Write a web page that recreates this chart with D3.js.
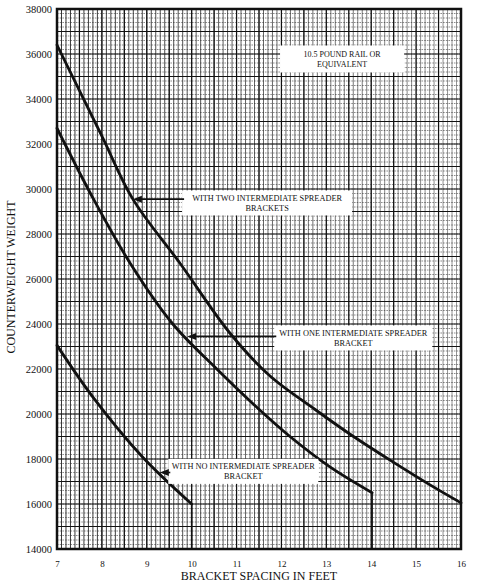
<!DOCTYPE html>
<html>
<head>
<meta charset="utf-8">
<script src="https://cdn.jsdelivr.net/npm/d3@7"></script>
<style>
  body { margin: 0; background: #fff; }
  text { font-family: "Liberation Serif", "DejaVu Serif", serif; fill: #111; }
</style>
</head>
<body>
<script>
// curve data (x = bracket spacing in feet, y = counterweight)
var twoX = [7, 8, 8.69, 9.74, 10.85, 11.74, 12.75, 13.53, 14.42, 15.31, 16];
var twoY = [36400, 32350, 29550, 26700, 23600, 21700, 20200, 19100, 17950, 16850, 16050];

var oneX = [7, 7.8, 8.63, 9.58, 10.56, 11.45, 12.19, 13.08, 14.02];
var oneY = [32700, 29600, 26700, 24000, 22000, 20300, 19000, 17650, 16500];

var noX = [7, 7.8, 8.9, 10];
var noY = [23050, 20750, 18100, 16000];

var xTicks = [7, 8, 9, 10, 11, 12, 13, 14, 15, 16];
var yTicks = [14000, 16000, 18000, 20000, 22000, 24000, 26000, 28000, 30000, 32000, 34000, 36000, 38000];

// callout labels: where the arrow touches the curve, and the box center
var calloutText = [
  ["WITH TWO INTERMEDIATE SPREADER", "BRACKETS"],
  ["WITH ONE INTERMEDIATE SPREADER", "BRACKET"],
  ["WITH NO INTERMEDIATE SPREADER", "BRACKET"]
];
var calloutPoint = [[8.69, 29550], [9.9, 23450], [9.29, 17400]];
var calloutBox = [[11.68, 29380], [13.6, 23380], [11.15, 17450]];
var calloutWidth = [170, 158, 150];

var width = 477, height = 587;
var margin = {top: 9, right: 16, bottom: 38, left: 57};

var svg = d3.select("body")
            .append("svg")
            .attr("width", width)
            .attr("height", height);

var x = d3.scaleLinear().domain([7, 16]).range([margin.left, width - margin.right]);
var y = d3.scaleLinear().domain([14000, 38000]).range([height - margin.bottom, margin.top]);

var grid = svg.append("g");

// fine grid, 0.1 ft and 200 lb, fading out to the right like the scan
grid.selectAll(".vmin")
    .data(d3.range(70, 161).map(function(d) { return d / 10; }))
    .enter()
    .append("line")
    .attr("x1", function(d) { return x(d); })
    .attr("x2", function(d) { return x(d); })
    .attr("y1", y(14000))
    .attr("y2", y(38000))
    .style("stroke", "#111")
    .style("stroke-width", 0.9)
    .style("stroke-opacity", function(d) { return 0.95 - (d - 7) * 0.05; });

grid.selectAll(".hmin")
    .data(d3.range(14000, 38001, 200))
    .enter()
    .append("line")
    .attr("x1", x(7))
    .attr("x2", x(16))
    .attr("y1", function(d) { return y(d); })
    .attr("y2", function(d) { return y(d); })
    .style("stroke", "#222")
    .style("stroke-width", 0.8)
    .style("stroke-dasharray", "1.6,1.1")
    .style("stroke-opacity", 0.65);

// heavier lines every half foot and every 1000 lb
grid.selectAll(".vmaj")
    .data(d3.range(7, 16.01, 0.5))
    .enter()
    .append("line")
    .attr("x1", function(d) { return x(d); })
    .attr("x2", function(d) { return x(d); })
    .attr("y1", y(14000))
    .attr("y2", y(38000))
    .style("stroke", "#111")
    .style("stroke-width", 1.2);

grid.selectAll(".hmaj")
    .data(d3.range(14000, 38001, 1000))
    .enter()
    .append("line")
    .attr("x1", x(7))
    .attr("x2", x(16))
    .attr("y1", function(d) { return y(d); })
    .attr("y2", function(d) { return y(d); })
    .style("stroke", "#111")
    .style("stroke-width", 1.2);

// frame
svg.append("rect")
   .attr("x", x(7))
   .attr("y", y(38000))
   .attr("width", x(16) - x(7))
   .attr("height", y(14000) - y(38000))
   .style("fill", "none")
   .style("stroke", "#111")
   .style("stroke-width", 2.5);

// axes (text only, the frame does the lines)
var xAxis = svg.append("g")
               .attr("transform", "translate(0," + (y(14000) + 9) + ")")
               .call(d3.axisBottom(x).tickValues(xTicks).tickSize(0).tickFormat(d3.format("d")));
xAxis.select(".domain").remove();
xAxis.selectAll("text").style("font-size", "9px").style("font-family", "Liberation Serif");

var yAxis = svg.append("g")
               .attr("transform", "translate(" + (x(7) - 2) + ",0)")
               .call(d3.axisLeft(y).tickValues(yTicks).tickSize(0).tickFormat(d3.format("d")));
yAxis.select(".domain").remove();
yAxis.selectAll("text").style("font-size", "10.5px").style("font-family", "Liberation Serif");

svg.append("text")
   .attr("x", (x(7) + x(16)) / 2)
   .attr("y", 580)
   .attr("text-anchor", "middle")
   .style("font-size", "12px")
   .text("BRACKET SPACING IN FEET");

svg.append("text")
   .attr("transform", "translate(15," + (y(26000) - 2) + ") rotate(-90)")
   .attr("text-anchor", "middle")
   .style("font-size", "12px")
   .text("COUNTERWEIGHT WEIGHT");

// rail note
var note = svg.append("g");
note.append("rect")
    .attr("x", x(13.35) - 62)
    .attr("y", y(35800) - 13)
    .attr("width", 124)
    .attr("height", 27)
    .style("fill", "#fff");
note.selectAll("text")
    .data(["10.5 POUND RAIL OR", "EQUIVALENT"])
    .enter()
    .append("text")
    .attr("x", x(13.35))
    .attr("y", function(d, i) { return y(35800) - 2 + i * 10; })
    .attr("text-anchor", "middle")
    .style("font-size", "8px")
    .text(function(d) { return d; });

// the curves
var line = d3.line()
             .x(function(d) { return x(d[0]); })
             .y(function(d) { return y(d[1]); })
             .curve(d3.curveCatmullRom.alpha(0.5));

var curves = [d3.zip(twoX, twoY), d3.zip(oneX, oneY), d3.zip(noX, noY)];

svg.selectAll(".curve")
   .data(curves)
   .enter()
   .append("path")
   .attr("d", line)
   .style("fill", "none")
   .style("stroke", "#111")
   .style("stroke-width", 2.8)
   .style("stroke-linecap", "round");

// cut-off drops at the end of the two shorter curves
svg.selectAll(".drop")
   .data([curves[1][curves[1].length - 1], curves[2][curves[2].length - 1]])
   .enter()
   .append("line")
   .attr("x1", function(d) { return x(d[0]); })
   .attr("x2", function(d) { return x(d[0]); })
   .attr("y1", function(d) { return y(d[1]); })
   .attr("y2", y(14000))
   .style("stroke", "#111")
   .style("stroke-width", 1.6);

// callouts with arrows
calloutText.forEach(function(lines, i) {
  var g = svg.append("g");
  var cx = x(calloutBox[i][0]), cy = y(calloutBox[i][1]);
  var px = x(calloutPoint[i][0]), py = y(calloutPoint[i][1]);
  var w = calloutWidth[i], h = 25;

  g.append("rect")
   .attr("x", cx - w / 2)
   .attr("y", cy - h / 2)
   .attr("width", w)
   .attr("height", h)
   .style("fill", "#fff");

  g.selectAll("text")
   .data(lines)
   .enter()
   .append("text")
   .attr("x", cx)
   .attr("y", function(d, j) { return cy - 2 + j * 10; })
   .attr("text-anchor", "middle")
   .style("font-size", "8.3px")
   .text(function(d) { return d; });

  g.append("line")
   .attr("x1", cx - w / 2 + 2)
   .attr("x2", px + 6)
   .attr("y1", py)
   .attr("y2", py)
   .style("stroke", "#111")
   .style("stroke-width", 1.6);

  g.append("path")
   .attr("d", "M" + px + "," + py + "l9,-3.5l0,7z")
   .style("fill", "#111");
});
</script>
</body>
</html>
